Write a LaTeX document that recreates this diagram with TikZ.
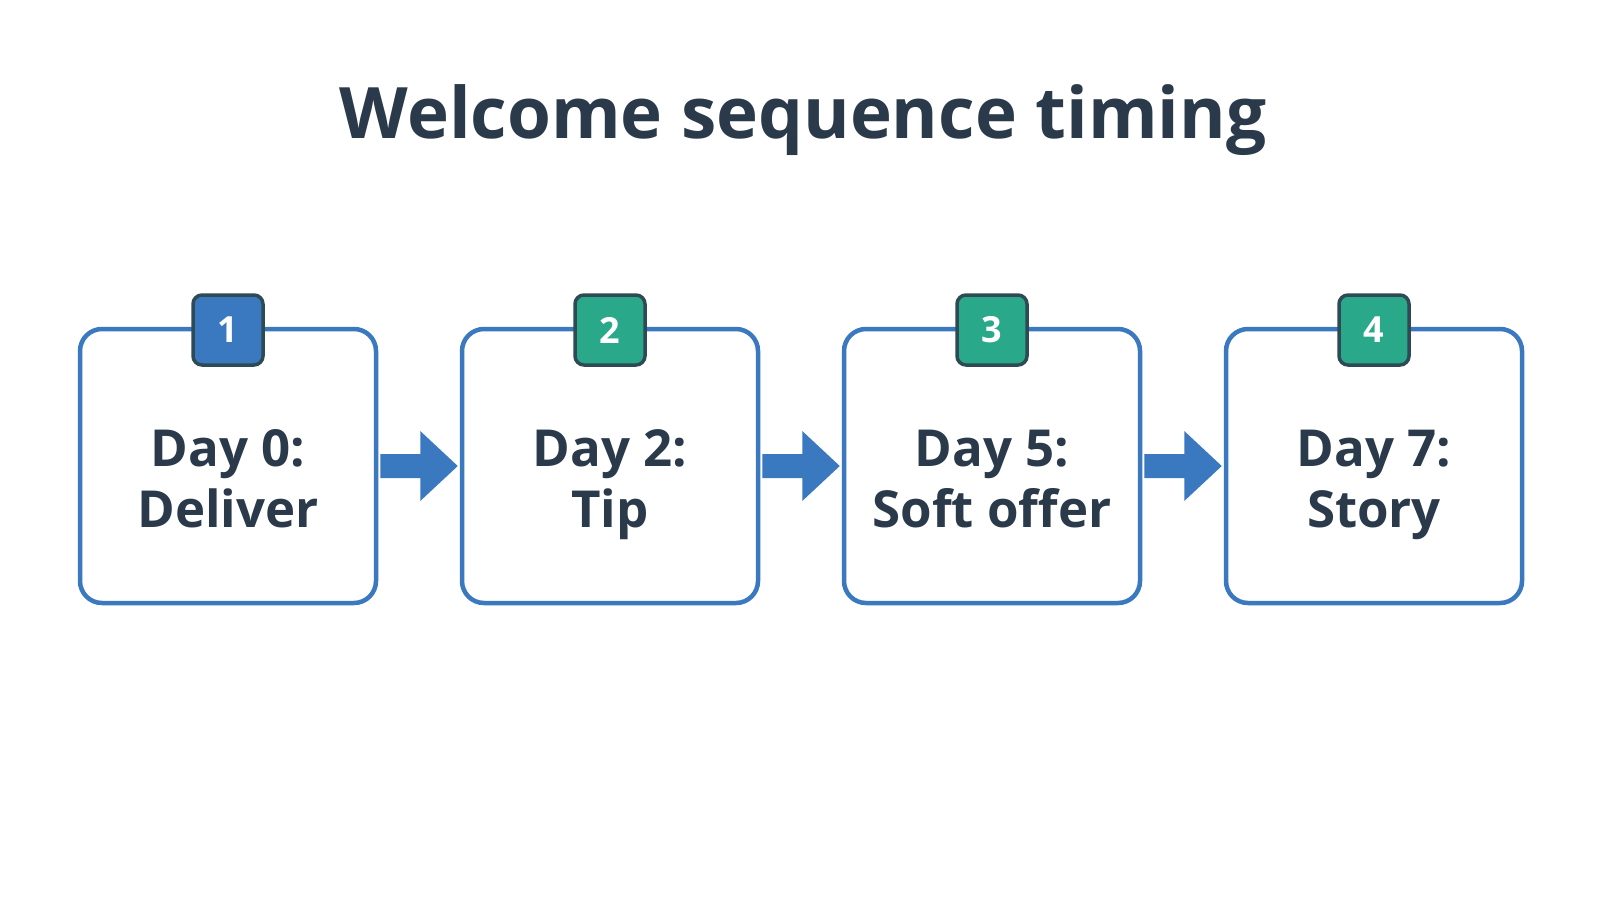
\documentclass[tikz,border=0pt]{standalone}
\usepackage{fontspec}
\setmainfont{Open Sans}
\definecolor{ink}{HTML}{2B3A4A}
\definecolor{bl}{HTML}{3A78BF}
\definecolor{gr}{HTML}{2AA88A}
\definecolor{bd}{HTML}{2D4A55}
\begin{document}
\begin{tikzpicture}[x=1pt,y=-1pt,
  box/.style={draw=bl,line width=4.5pt,fill=white,rounded corners=22pt,minimum width=296pt,minimum height=274pt,inner sep=0pt},
  badge/.style={draw=bd,line width=3.5pt,rounded corners=9pt,minimum width=70pt,minimum height=70pt,text=white,font=\bfseries\fontsize{36}{36}\selectfont},
  lbl/.style={text=ink,font=\bfseries\fontsize{51}{51}\selectfont,anchor=base,inner sep=0pt},
  arr/.style={fill=bl,draw=none}]
\useasboundingbox (0,0) rectangle (1600,900);
\node[text=ink,font=\bfseries\fontsize{71}{71}\selectfont] (title) at (803,120) {Welcome sequence timing};
\foreach \i/\x/\c/\ta/\tb in {1/228/bl/{Day 0:}/{Deliver},2/610/gr/{Day 2:}/{Tip},3/992/gr/{Day 5:}/{Soft offer},4/1374/gr/{Day 7:}/{Story}}{
  \node[box] (b\i) at (\x,466) {};
  \node[lbl] (ta\i) at (\x,466) {\ta};
  \node[lbl] (tb\i) at (\x,527) {\tb};
  \node[badge,fill=\c] (n\i) at (\x,330) {\i};
}
\foreach \a/\b in {1/2,2/3,3/4}{
  \fill[arr] ([xshift=2pt,yshift=-12pt]b\a.east) -- ([xshift=42pt,yshift=-12pt]b\a.east) -- ([xshift=42pt,yshift=-35pt]b\a.east) -- ([xshift=-2pt]b\b.west) -- ([xshift=42pt,yshift=35pt]b\a.east) -- ([xshift=42pt,yshift=12pt]b\a.east) -- ([xshift=2pt,yshift=12pt]b\a.east) -- cycle;
}
\end{tikzpicture}
\end{document}
